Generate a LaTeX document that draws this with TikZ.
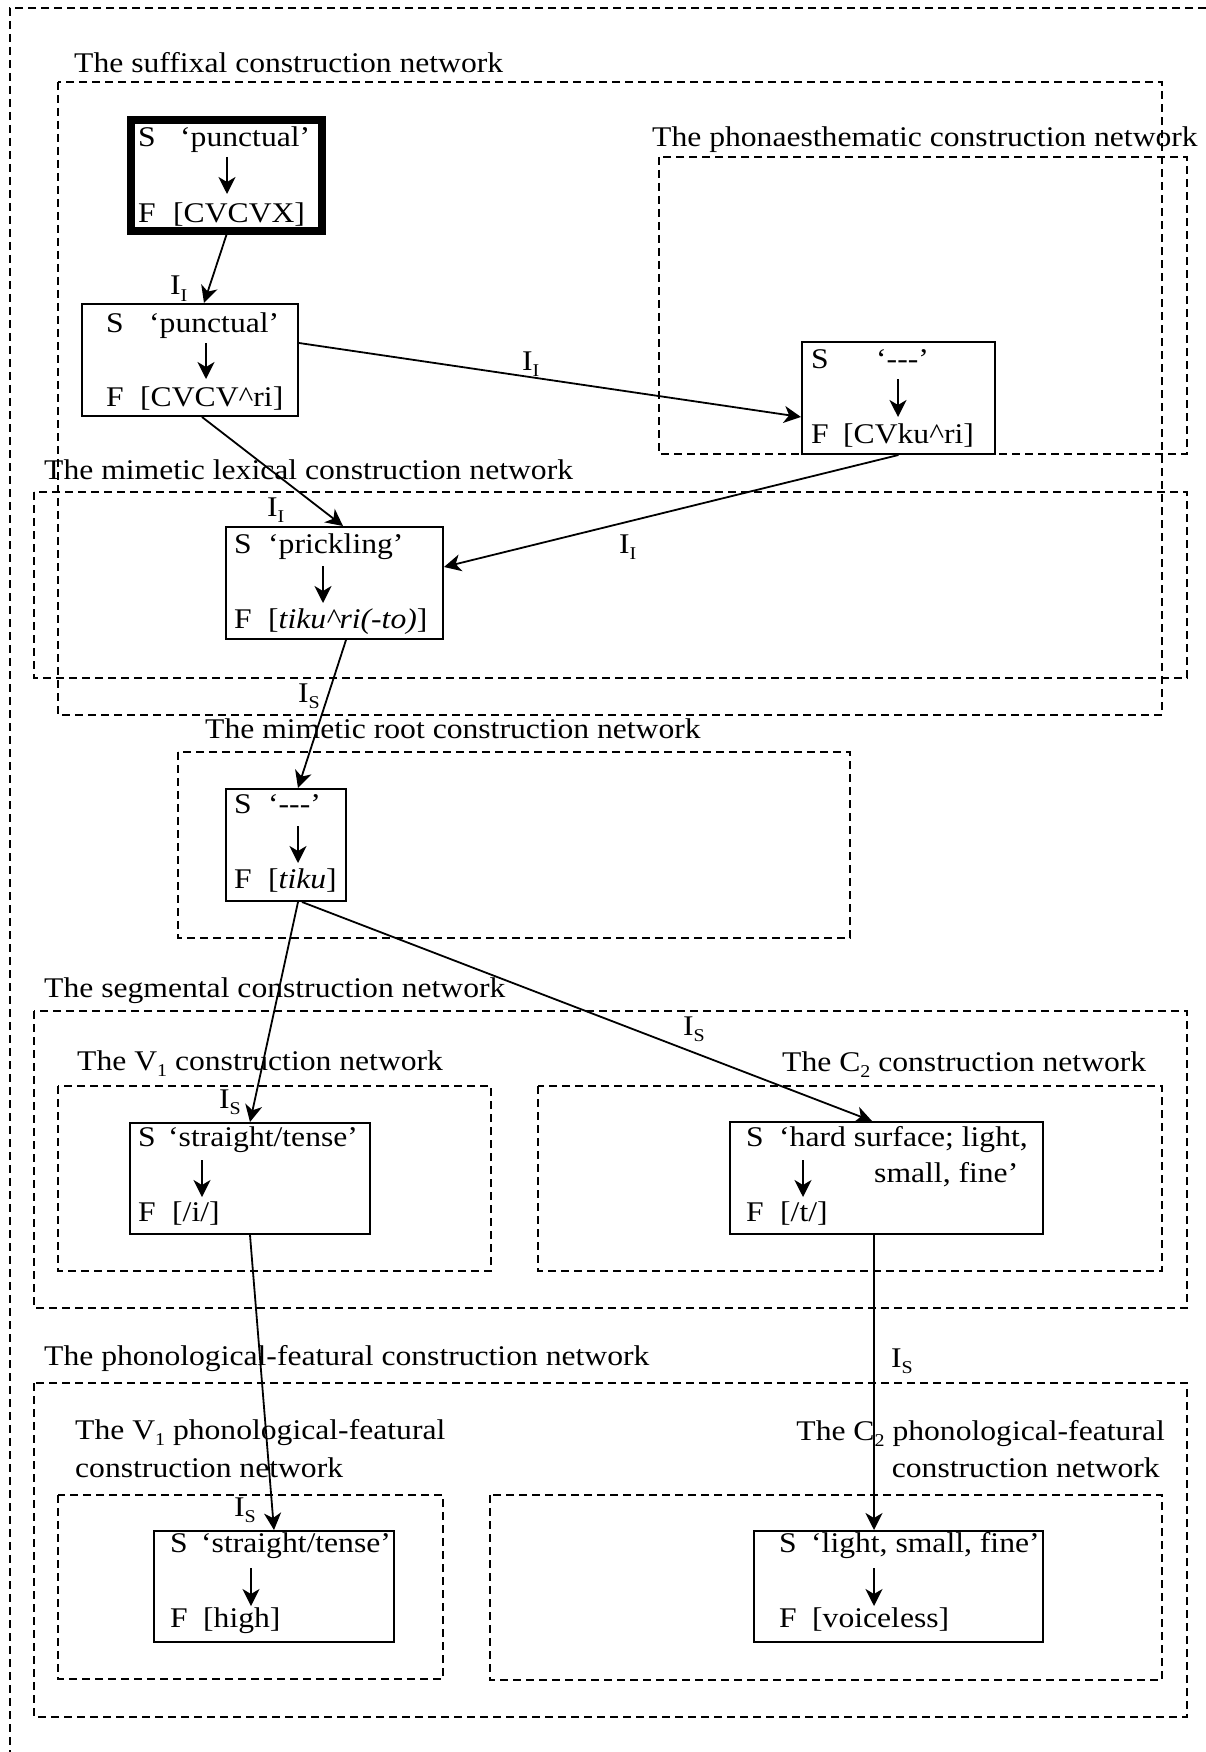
\documentclass[tikz,border=0pt]{standalone}
\usepackage{fontspec}
\setmainfont{Liberation Serif}[FakeStretch=1.11]
\usetikzlibrary{arrows.meta}

% lowered small index (I_I, I_S, V_1, C_2)
\newcommand{\lowsub}[1]{\raisebox{-6pt}{\fontsize{18}{18}\selectfont #1}}
% one line of a construction box: tag, fixed gap, content
\newcommand{\sfrow}[3]{\makebox[#1pt][l]{#2}#3}
% three separate hyphens (no dash ligature)
\newcommand{\threehy}{\mbox{-}\mbox{-}\mbox{-}}

\begin{document}
\begin{tikzpicture}[x=1pt,y=-1pt,
  font=\fontsize{28.5}{37}\selectfont,
  netbox/.style={draw, dash pattern=on 8pt off 5pt, line width=2pt},
  nettitle/.style={anchor=base west, inner sep=0pt},
  cxbox/.style={draw, rectangle, line width=2pt, fill=white, inner sep=0pt},
  txt/.style={anchor=base west, inner sep=0pt},
  lbl/.style={anchor=base west, inner sep=0pt},
  link/.style={line width=1.8pt, -{Stealth[length=17pt,width=17pt,inset=5pt]}}]

\useasboundingbox (0,0) rectangle (1206,1752);

% outer frame (runs off the right and bottom edges)
\draw[netbox] (1206,8) -- (10,8) -- (10,1752);

% construction networks
\draw[netbox] (58,82) rectangle (1162,715);
\node[nettitle] (t-suf) at (74,73) {The suffixal construction network};

\draw[netbox] (659,157) rectangle (1187,454);
\node[nettitle] (t-pho) at (652,147) {The phonaesthematic construction network};

\draw[netbox] (34,492) rectangle (1187,678);
\node[nettitle] (t-lex) at (44,479) {The mimetic lexical construction network};

\draw[netbox] (178,752) rectangle (850,938);
\node[nettitle] (t-root) at (205,738) {The mimetic root construction network};

\draw[netbox] (34,1011) rectangle (1187,1308);
\node[nettitle] (t-seg) at (44,997) {The segmental construction network};

\draw[netbox] (58,1086) rectangle (491,1271);
\node[nettitle] (t-v1) at (77,1070) {The V\lowsub{1} construction network};

\draw[netbox] (538,1086) rectangle (1162,1271);
\node[nettitle] (t-c2) at (782,1071) {The C\lowsub{2} construction network};

\draw[netbox] (34,1383) rectangle (1187,1717);
\node[nettitle] (t-pf) at (44,1365) {The phonological-featural construction network};

\draw[netbox] (58,1495) rectangle (443,1679);
\node[nettitle] (t-v1pf-a) at (75,1439) {The V\lowsub{1} phonological-featural};
\node[nettitle] (t-v1pf-b) at (75,1477) {construction network};

\draw[netbox] (490,1495) rectangle (1162,1680);
\node[nettitle, anchor=base east] (t-c2pf-a) at (1165,1440) {The C\lowsub{2} phonological-featural};
\node[nettitle, anchor=base east] (t-c2pf-b) at (1160,1477) {construction network};

% construction boxes
\node[cxbox, line width=7.5pt, minimum width=191pt, minimum height=111pt] (n1) at (226.5,175.5) {};
\node[cxbox, minimum width=216pt, minimum height=112pt] (n2) at (190,360) {};
\node[cxbox, minimum width=193pt, minimum height=112pt] (n3) at (898.5,398) {};
\node[cxbox, minimum width=217pt, minimum height=112pt] (n4) at (334.5,583) {};
\node[cxbox, minimum width=120pt, minimum height=112pt] (n5) at (286,845) {};
\node[cxbox, minimum width=240pt, minimum height=111pt] (n6) at (250,1178.5) {};
\node[cxbox, minimum width=313pt, minimum height=112pt] (n7) at (886.5,1178) {};
\node[cxbox, minimum width=240pt, minimum height=111pt] (n8) at (274,1586.5) {};
\node[cxbox, minimum width=289pt, minimum height=111pt] (n9) at (898.5,1586.5) {};

% box contents
\node[txt] (n1s) at (138,147) {\sfrow{42}{S}{‘punctual’}};
\node[txt] (n1f) at (138,223) {\sfrow{35}{F}{[CVCVX]}};
\coordinate (n1t) at (227,157); \coordinate (n1h) at (227,194);

\node[txt] (n2s) at (106,333) {\sfrow{43}{S}{‘punctual’}};
\node[txt] (n2f) at (106,406) {\sfrow{34}{F}{[CVCV\textasciicircum ri]}};
\coordinate (n2t) at (206,343); \coordinate (n2h) at (206,379);

\node[txt] (n3s) at (811,368) {\sfrow{65}{S}{‘\threehy’}};
\node[txt] (n3f) at (811,443) {\sfrow{32}{F}{[CVku\textasciicircum ri]}};
\coordinate (n3t) at (898,379); \coordinate (n3h) at (898,417);

\node[txt] (n4s) at (234,553) {\sfrow{34}{S}{‘prickling’}};
\node[txt] (n4f) at (234,628) {\sfrow{34}{F}{[\textit{tiku\textasciicircum ri(-to)}]}};
\coordinate (n4t) at (323,566); \coordinate (n4h) at (323,603);

\node[txt] (n5s) at (234,813) {\sfrow{34}{S}{‘\threehy’}};
\node[txt] (n5f) at (234,888) {\sfrow{34}{F}{[\textit{tiku}]}};
\coordinate (n5t) at (298,826); \coordinate (n5h) at (298,863);

\node[txt] (n6s) at (138,1146) {\sfrow{30}{S}{‘straight/tense’}};
\node[txt] (n6f) at (138,1221) {\sfrow{34}{F}{[/i/]}};
\coordinate (n6t) at (202,1160); \coordinate (n6h) at (202,1197);

\node[txt] (n7s) at (746,1146) {\sfrow{33}{S}{‘hard surface; light,}};
\node[txt] (n7s2) at (874,1182) {small, fine’};
\node[txt] (n7f) at (746,1221) {\sfrow{34}{F}{[/t/]}};
\coordinate (n7t) at (803,1160); \coordinate (n7h) at (803,1197);

\node[txt] (n8s) at (170,1552) {\sfrow{31}{S}{‘straight/tense’}};
\node[txt] (n8f) at (170,1627) {\sfrow{33}{F}{[high]}};
\coordinate (n8t) at (251,1568); \coordinate (n8h) at (251,1606);

\node[txt] (n9s) at (779,1552) {\sfrow{32}{S}{‘light, small, fine’}};
\node[txt] (n9f) at (779,1627) {\sfrow{33}{F}{[voiceless]}};
\coordinate (n9t) at (874,1568); \coordinate (n9h) at (874,1606);

% S -> F arrows inside the boxes
\foreach \b in {n1,n2,n3,n4,n5,n6,n7,n8,n9}
  \draw[link] (\b t) -- (\b h);

% inheritance links
\draw[link] (n1.south) -- ([xshift=14pt]n2.north);
\draw[link] ([yshift=17pt]n2.east) -- ([yshift=-19pt]n3.west);
\draw[link] ([xshift=12pt]n2.south) -- ([xshift=8.5pt]n4.north);
\draw[link] (n3.south) -- ([yshift=16pt]n4.east);
\draw[link] ([xshift=11.5pt]n4.south) -- ([xshift=12pt]n5.north);
\draw[link] ([xshift=12pt]n5.south) -- (n6.north);
\draw[link] ([xshift=16pt]n5.south) -- ([xshift=-14.5pt]n7.north);
\draw[link] (n6.south) -- (n8.north);
\draw[link] ([xshift=-12.5pt]n7.south) -- ([xshift=-24.5pt]n9.north);

% link labels
\node[lbl] (l12) at (170,295) {I\lowsub{I}};
\node[lbl] (l23) at (522,370) {I\lowsub{I}};
\node[lbl] (l24) at (267,516) {I\lowsub{I}};
\node[lbl] (l34) at (619,553) {I\lowsub{I}};
\node[lbl] (l45) at (298,702) {I\lowsub{S}};
\node[lbl] (l56) at (219,1108) {I\lowsub{S}};
\node[lbl] (l57) at (683,1035) {I\lowsub{S}};
\node[lbl] (l68) at (234,1516) {I\lowsub{S}};
\node[lbl] (l79) at (891,1367) {I\lowsub{S}};

\end{tikzpicture}
\end{document}
